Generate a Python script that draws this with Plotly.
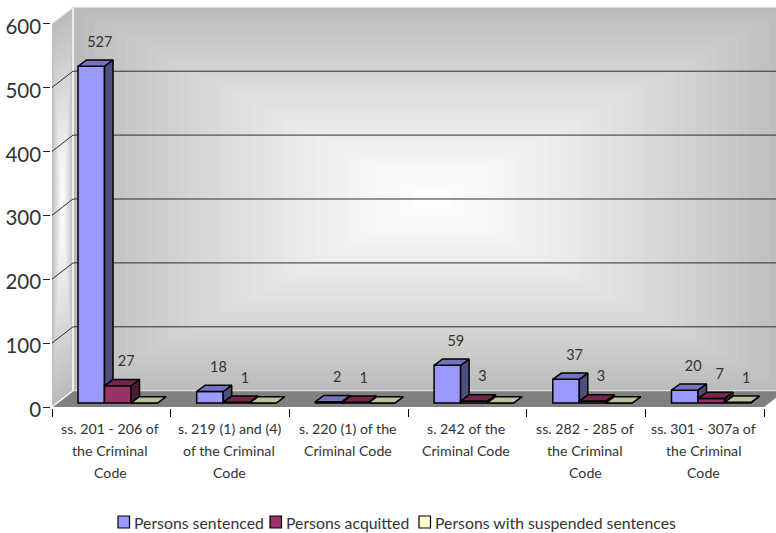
import plotly.graph_objects as go

# ---- chart values ----
category_lines = [
    ["ss. 201 - 206 of", "the Criminal", "Code"],
    ["s. 219 (1) and (4)", "of the Criminal", "Code"],
    ["s. 220 (1) of the", "Criminal Code"],
    ["s. 242 of the", "Criminal Code"],
    ["ss. 282 - 285 of", "the Criminal", "Code"],
    ["ss. 301 - 307a of", "the Criminal", "Code"],
]
sentenced = [527, 18, 2, 59, 37, 20]
acquitted = [27, 1, 1, 3, 3, 7]
suspended = [0, 0, 0, 0, 0, 1]
series_names = ["Persons sentenced", "Persons acquitted", "Persons with suspended sentences"]
value_ticks = [0, 100, 200, 300, 400, 500, 600]

# ---- canvas and scale ----
W, H = 776, 533
LEFT, FLOOR_PX = 52, 407
PX_PER_CAT, PX_PER_VAL = 118.7, 0.639
X_MAX = (W - LEFT) / PX_PER_CAT
Y_MAX = FLOOR_PX / PX_PER_VAL


def dx(px):
    return px / PX_PER_CAT


def dy(px):
    return px / PX_PER_VAL


# ---- pseudo-3D geometry, in axis units ----
WALL_DX, WALL_DY = dx(21), dy(16.3)
BAR_START, BAR_W = dx(26), dx(26.5)
BAR_BASE = dy(4)
BAR_DX, BAR_DY = dx(8.5), dy(6.3)
TOP_VAL = 600
LEVELS = 34

FONT = "Lato, sans-serif"
TEXT = "#333333"
faces = {
    series_names[0]: ("#9999FF", "#7373BF", "#4D4D80"),
    series_names[1]: ("#993366", "#73264D", "#4D1A33"),
    series_names[2]: ("#FFFFCC", "#BFBF99", "#808066"),
}


def grey(level):
    """Wall shade: level 0 is the bright centre, level 1 the outer edge."""
    v = round(255 - 67 * level ** 1.2)
    return f"rgb({v},{v},{v})"


def poly_path(points):
    return "M" + "L".join(f"{x:.4f},{y:.3f}" for x, y in points) + "Z"


shapes = []


def add_poly(points, fill):
    shapes.append(dict(type="path", path=poly_path(points), fillcolor=fill,
                       line=dict(width=0), layer="below", xref="x", yref="y"))


def add_edge(x0, y0, x1, y1, color, width):
    shapes.append(dict(type="line", x0=x0, y0=y0, x1=x1, y1=y1, layer="below",
                       line=dict(color=color, width=width), xref="x", yref="y"))


# Back wall: concentric rectangles give the centre-out shading
back_left, back_right = WALL_DX, dx(791 - LEFT)
back_low, back_high = WALL_DY, TOP_VAL + WALL_DY
bx, by = (back_left + back_right) / 2, (back_low + back_high) / 2
bhx, bhy = (back_right - back_left) / 2, (back_high - back_low) / 2
for k in range(LEVELS, 0, -1):
    t = k / LEVELS
    add_poly([(bx - t * bhx, by - t * bhy), (bx + t * bhx, by - t * bhy),
              (bx + t * bhx, by + t * bhy), (bx - t * bhx, by + t * bhy)], grey(t))

# Side wall: the same shading, sheared into the depth direction
sx, sy = WALL_DX / 2, TOP_VAL / 2 + WALL_DY / 2
shx, shy = WALL_DX / 2, TOP_VAL / 2
shear = WALL_DY / 2
for k in range(LEVELS, 0, -1):
    t = k / LEVELS
    corners = [(-t, -t), (t, -t), (t, t), (-t, t)]
    add_poly([(sx + u * shx, sy + v * shy + u * shear) for u, v in corners], grey(t))

# Floor
add_poly([(0, 0), (6, 0), (6 + WALL_DX, WALL_DY), (WALL_DX, WALL_DY)], "#808080")

# Light edges where the walls meet
EDGE = "#ececec"
add_edge(WALL_DX, WALL_DY, WALL_DX, TOP_VAL + WALL_DY, "#ffffff", 1.5)
add_edge(0, TOP_VAL, WALL_DX, TOP_VAL + WALL_DY, EDGE, 1.2)
add_edge(0, 0, WALL_DX, WALL_DY, "#ffffff", 1.2)
add_edge(WALL_DX, WALL_DY, X_MAX, WALL_DY, "#dddddd", 1.2)
add_edge(WALL_DX, TOP_VAL + WALL_DY, X_MAX, TOP_VAL + WALL_DY, "#dcdcdc", 1.2)

fig = go.Figure()

# Gridlines run along the side wall, then across the back wall
grid_x, grid_y = [], []
for v in value_ticks[1:-1]:
    grid_x += [0, WALL_DX, X_MAX, None]
    grid_y += [v, v + WALL_DY, v + WALL_DY, None]
fig.add_trace(go.Scatter(x=grid_x, y=grid_y, mode="lines", hoverinfo="skip", showlegend=False,
                         line=dict(color="#2e2e2e", width=1), zorder=0))

# Bars, one series at a time so that later fronts cover earlier side faces
LINE = dict(color="black", width=1.5)
label_x, label_y, label_text = [], [], []
all_series = [sentenced, acquitted, suspended]
for s, (name, values) in enumerate(zip(series_names, all_series)):
    front, top, side = faces[name]
    left = [i + BAR_START + s * BAR_W for i in range(len(values))]
    fig.add_trace(go.Bar(
        x=[i + 0.5 for i in range(len(values))], y=values, base=[BAR_BASE] * len(values),
        width=BAR_W, offset=BAR_START + s * BAR_W - 0.5, name=name, showlegend=False,
        marker=dict(color=front, line=LINE), zorder=s + 1))
    side_x, side_y, top_x, top_y = [], [], [], []
    for x0, v in zip(left, values):
        x1 = x0 + BAR_W
        y1 = BAR_BASE + v
        side_x += [x1, x1 + BAR_DX, x1 + BAR_DX, x1, x1, None]
        side_y += [BAR_BASE, BAR_BASE + BAR_DY, y1 + BAR_DY, y1, BAR_BASE, None]
        top_x += [x0, x1, x1 + BAR_DX, x0 + BAR_DX, x0, None]
        top_y += [y1, y1, y1 + BAR_DY, y1 + BAR_DY, y1, None]
        if v > 0:
            label_x.append(x0 + BAR_W / 2 + dx(8.5))
            label_y.append(y1 + BAR_DY + dy(17))
            label_text.append(str(v))
    for fx, fy, color in ((side_x, side_y, side), (top_x, top_y, top)):
        fig.add_trace(go.Scatter(x=fx, y=fy, mode="lines", fill="toself", fillcolor=color,
                                 line=LINE, hoverinfo="skip", showlegend=False, zorder=s + 1))

# Value labels above each non-zero bar
fig.add_trace(go.Scatter(x=label_x, y=label_y, text=label_text, mode="text",
                         textposition="middle center", hoverinfo="skip", showlegend=False,
                         textfont=dict(family=FONT, size=14.5, color=TEXT), cliponaxis=False, zorder=5))

# Category labels, one annotation per line for the wide line spacing
annotations = []
LINE_Y = [429, 450.5, 472]
for i, lines in enumerate(category_lines):
    for line, py in zip(lines, LINE_Y):
        annotations.append(dict(text=line, x=i + 0.5, xref="x", y=(FLOOR_PX - py) / FLOOR_PX, yref="paper",
                                xshift=-1, showarrow=False, xanchor="center", yanchor="middle",
                                font=dict(family=FONT, size=14.2, color=TEXT)))

# Compact legend row under the chart
LEGEND_Y = 522
swatch_px = [118, 270, 419]
for name, px in zip(series_names, swatch_px):
    x0 = (px - LEFT) / (W - LEFT)
    x1 = (px + 11.5 - LEFT) / (W - LEFT)
    shapes.append(dict(type="rect", xref="paper", yref="paper", x0=x0, x1=x1,
                       y0=(FLOOR_PX - LEGEND_Y - 6) / FLOOR_PX, y1=(FLOOR_PX - LEGEND_Y + 6) / FLOOR_PX,
                       fillcolor=faces[name][0], line=dict(color="black", width=1.2), layer="above"))
    annotations.append(dict(text=name, x=(px + 14 - LEFT) / (W - LEFT), xref="paper",
                            y=(FLOOR_PX - LEGEND_Y) / FLOOR_PX, yref="paper", showarrow=False,
                            xanchor="left", yanchor="middle",
                            font=dict(family=FONT, size=15.8, color=TEXT)))

fig.update_layout(
    width=W, height=H, autosize=False,
    margin=dict(l=LEFT, r=0, t=0, b=H - FLOOR_PX, pad=0),
    paper_bgcolor="white", plot_bgcolor="white",
    barmode="overlay", showlegend=False,
    shapes=shapes, annotations=annotations,
    xaxis=dict(range=[0, X_MAX], tickvals=list(range(7)), ticktext=[""] * 7, ticks="outside", ticklen=8,
               tickcolor="black", tickwidth=1.2, showgrid=False, zeroline=False, showline=True,
               linecolor="black", linewidth=1.5),
    yaxis=dict(range=[0, Y_MAX], tickvals=value_ticks, ticks="outside", ticklen=7, tickcolor="#222222",
               tickwidth=1.2, showgrid=False, zeroline=False, showline=True, linecolor="#555555", linewidth=1.5,
               tickfont=dict(family=FONT, size=20.5, color="#333333"), automargin=False,
               ticklabelstandoff=-2, ticklabelshift=3),
)

fig.write_html("out.html")
